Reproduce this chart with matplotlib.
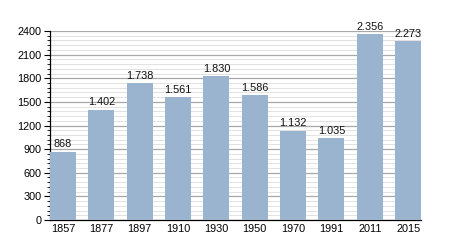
import matplotlib
matplotlib.use('Agg')
import matplotlib.pyplot as plt
from matplotlib.ticker import MultipleLocator

plt.rcParams['font.family'] = ['Liberation Sans', 'DejaVu Sans']

years = ['1857', '1877', '1897', '1910', '1930', '1950', '1970', '1991', '2011', '2015']
population = [868, 1402, 1738, 1561, 1830, 1586, 1132, 1035, 2356, 2273]
labels = [f'{v:,}'.replace(',', '.') for v in population]

bar_w = 0.68
fig = plt.figure(figsize=(4.5, 2.5), dpi=100)
ax = fig.add_axes([0.111, 0.12, 0.825, 0.756])

x = list(range(len(years)))
ax.bar(x, population, width=bar_w, color='#9ab3cf', zorder=3)
for i, (v, t) in enumerate(zip(population, labels)):
    ax.text(i, v + 30, t, ha='center', va='bottom', fontsize=7.8, color='#111111', zorder=4)

ax.set_xlim(-bar_w / 2, len(years) - 1 + bar_w / 2)
ax.set_ylim(0, 2400)
ax.set_xticks(x)
ax.set_xticklabels(years)
ax.yaxis.set_major_locator(MultipleLocator(300))
ax.yaxis.set_minor_locator(MultipleLocator(60))
ax.grid(axis='y', which='major', color='#a8a8a8', linewidth=0.9, zorder=0)
ax.grid(axis='y', which='minor', color='#e2e2e2', linewidth=0.7, zorder=0)
ax.tick_params(axis='x', length=0, labelsize=7.8, pad=3)
ax.tick_params(axis='y', which='major', length=4, width=0.8, labelsize=7.8, pad=2)
ax.tick_params(axis='y', which='minor', length=2, width=0.6)
for s in ['top', 'right']:
    ax.spines[s].set_visible(False)
for s in ['left', 'bottom']:
    ax.spines[s].set_color('black')
    ax.spines[s].set_linewidth(0.9)

fig.savefig('out.png', dpi=100)
